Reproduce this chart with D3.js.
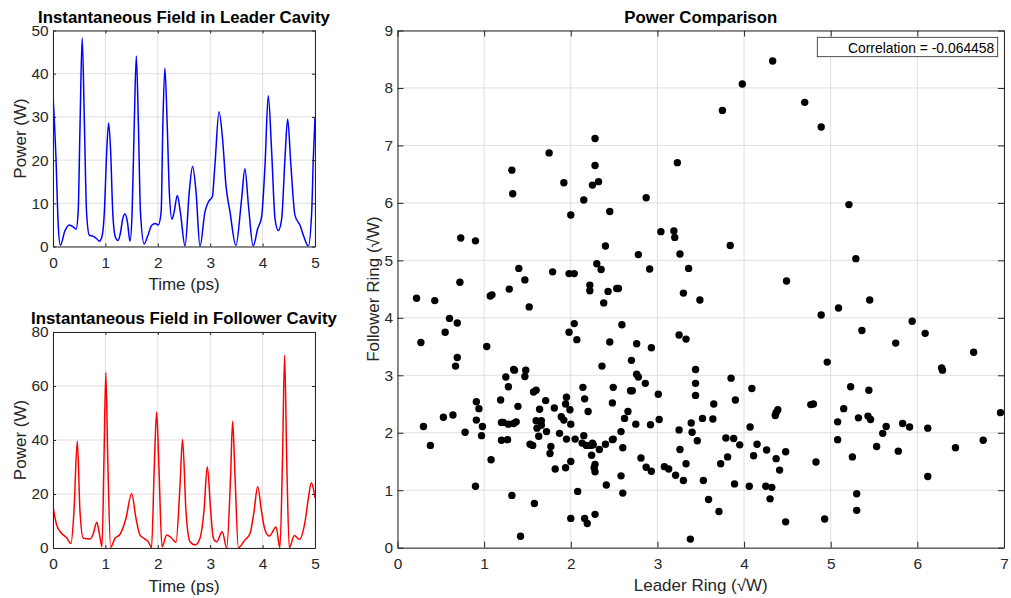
<!DOCTYPE html>
<html>
<head>
<meta charset="utf-8">
<script src="https://cdn.jsdelivr.net/npm/d3@7"></script>
<style>
  body { margin: 0; background: #fff; }
  svg { display: block; }
</style>
</head>
<body>
<svg id="fig" width="1011" height="598"></svg>
<script>
// ---- Leader cavity: instantaneous power vs time ----
const leaderTime = [0, 0.057, 0.10, 0.14, 0.23, 0.31, 0.39, 0.44, 0.48, 0.516,
  0.557, 0.60, 0.64, 0.694, 0.758, 0.834, 0.885, 0.94, 0.98, 1.025,
  1.062, 1.10, 1.14, 1.19, 1.24, 1.29, 1.33, 1.376, 1.42, 1.47,
  1.51, 1.55, 1.59, 1.63, 1.669, 1.74, 1.80, 1.885, 1.95, 2.01,
  2.064, 2.096, 2.135, 2.18, 2.22, 2.27, 2.312, 2.372, 2.43, 2.52,
  2.60, 2.664, 2.73, 2.805, 2.90, 2.964, 3.04, 3.09, 3.168, 3.24,
  3.30, 3.378, 3.49, 3.60, 3.662, 3.73, 3.82, 3.906, 3.98, 4.046,
  4.108, 4.173, 4.237, 4.30, 4.364, 4.427, 4.478, 4.54, 4.618, 4.714,
  4.79, 4.873, 4.937, 4.968, 5.0];
const leaderPower = [35.3, 20.4, 4.9, 0.3, 3.7, 5.0, 4.5, 4.0, 8, 28,
  48.3, 28, 8, 2.6, 2.4, 1.8, 1.2, 2.6, 8, 22,
  28.6, 22, 8, 2.2, 1.4, 3.3, 6.4, 7.5, 5.7, 1.2,
  8, 28, 44.1, 28, 8, 0.6, 2.2, 4.9, 5.3, 5.0,
  8, 28, 41.3, 28, 12.6, 6.3, 8, 11.8, 8, 0.1,
  12.6, 18.5, 12.6, 0, 8, 10.3, 11.5, 18.8, 31.2, 24.3,
  14.2, 8, 0.2, 11.1, 18.0, 9.5, 0.1, 4.1, 6.8, 18.8,
  34.9, 21.9, 6.4, 3.7, 6.4, 20.4, 29.5, 18.8, 7.2, 4.9,
  2.2, 0.1, 8, 20.4, 29.8];

// ---- Follower cavity: instantaneous power vs time ----
const followerTime = [0, 0.07, 0.166, 0.26, 0.344, 0.40, 0.464, 0.515, 0.579, 0.706,
  0.77, 0.834, 0.884, 0.935, 0.973, 1.008, 1.045, 1.10, 1.183, 1.28,
  1.393, 1.50, 1.584, 1.66, 1.756, 1.826, 1.88, 1.934, 1.978, 2.02,
  2.08, 2.17, 2.265, 2.347, 2.424, 2.472, 2.538, 2.615, 2.71, 2.805,
  2.88, 2.945, 3.01, 3.06, 3.124, 3.23, 3.315, 3.39, 3.428, 3.473,
  3.537, 3.664, 3.76, 3.836, 3.906, 3.98, 4.046, 4.13, 4.256, 4.33,
  4.38, 4.42, 4.46, 4.51, 4.605, 4.70, 4.81, 4.873, 4.93, 4.968,
  5.0];
const followerPower = [15.3, 8.5, 5.4, 3.8, 1.7, 13.5, 39.6, 13.5, 3.6, 3.3,
  5.4, 9.5, 5.4, 0.5, 33, 65.0, 33, 0.3, 3.6, 5.1,
  11, 20.2, 11, 4.8, 3.3, 2.1, 0.1, 30.7, 50.4, 30.7,
  0.4, 4.8, 3.6, 2.1, 23.3, 40.2, 13.5, 2.3, 1.1, 3.6,
  13.5, 30.1, 13.5, 3.6, 2.3, 6.0, 0.1, 27, 46.9, 27,
  0.1, 3, 5.4, 13.5, 22.8, 13.5, 6.7, 4.4, 7.8, 0.1,
  33, 71.4, 33, 0.1, 4.6, 3.2, 9.8, 18.4, 24.2, 22.1,
  18.6];

// ---- Power comparison: sqrt power of leader ring vs follower ring ----
const leaderRing = [
  2.28, 1.75, 1.32, 2.28, 3.23, 1.92, 2.25, 2.32, 1.33, 2.15,
  2.87, 2.00, 2.45, 0.73, 0.90, 3.04, 3.19, 3.20, 2.40, 2.78,
  3.26, 1.40, 1.79, 1.98, 2.04, 2.30, 2.35, 2.91, 3.36, 0.72,
  1.47, 4.33, 3.98, 3.75, 4.70, 4.89, 5.21, 3.84, 5.29, 4.49,
  0.22, 0.43, 1.07, 1.09, 1.29, 1.52, 2.22, 2.22, 2.43, 2.38,
  2.53, 2.55, 3.30, 3.49, 0.60, 0.69, 0.55, 0.27, 0.69, 0.67,
  1.03, 2.04, 1.98, 2.07, 2.59, 2.45, 2.76, 2.93, 2.70, 2.36,
  3.25, 3.33, 3.44, 3.44, 3.44, 3.52, 2.76, 2.78, 2.86, 3.01,
  2.69, 2.71, 2.49, 2.48, 2.66, 2.62, 2.75, 2.92, 3.02, 2.58,
  2.60, 2.49, 2.48, 2.40, 2.33, 2.25, 2.26, 2.23, 2.18, 2.13,
  2.15, 2.05, 2.24, 2.28, 2.27, 2.28, 2.58, 2.41, 2.60, 2.08,
  2.00, 2.16, 2.19, 2.28, 1.42, 1.58, 1.32, 0.90, 1.08, 0.38,
  0.30, 0.53, 0.64, 0.78, 0.91, 0.94, 0.91, 0.98, 0.97, 1.19,
  1.25, 1.34, 1.35, 1.28, 1.39, 1.48, 1.47, 1.20, 1.22, 1.28,
  1.37, 1.34, 1.20, 1.27, 1.57, 1.60, 1.71, 1.64, 1.60, 1.66,
  1.66, 1.61, 1.72, 1.63, 1.53, 1.56, 1.77, 1.76, 1.82, 1.94,
  2.00, 1.81, 1.89, 1.92, 1.95, 1.94, 1.99, 2.00, 1.87, 1.95,
  2.14, 2.16, 2.20, 3.25, 3.26, 3.33, 3.30, 3.21, 3.13, 3.08,
  2.81, 2.87, 2.93, 3.39, 3.40, 3.46, 3.53, 3.38,
  4.89, 5.09, 5.45, 5.36, 5.94, 5.75, 6.09, 6.65, 6.28, 6.29,
  4.96, 3.85, 4.09, 3.90, 3.65, 3.64, 4.07, 4.39, 4.37, 4.36,
  4.77, 4.80, 5.23, 5.44, 5.15, 5.08, 5.32, 5.43, 5.46, 5.64,
  5.60, 5.83, 5.91, 6.12, 6.96, 6.76, 6.44, 6.12, 5.78, 5.53,
  5.25, 5.08, 4.83, 5.30, 5.30, 4.93, 4.48, 3.79, 3.88, 3.95,
  4.15, 4.26, 4.48, 4.11, 3.81, 4.37, 3.73, 4.41, 3.89, 4.06,
  4.25, 4.32, 4.30, 3.59, 3.71];
const followerRing = [
  7.12, 6.87, 6.57, 6.65, 6.70, 6.35, 6.31, 6.37, 6.16, 6.05,
  6.09, 5.79, 5.85, 5.39, 5.34, 5.50, 5.51, 5.40, 5.25, 5.10,
  5.11, 4.86, 4.80, 4.77, 4.77, 4.94, 4.84, 4.85, 4.86, 4.62,
  4.66, 8.47, 8.07, 7.61, 7.75, 7.32, 5.97, 5.26, 5.03, 4.64,
  4.34, 4.30, 4.38, 4.40, 4.50, 4.19, 4.57, 4.47, 4.46, 4.26,
  4.51, 4.51, 4.43, 4.31, 3.99, 3.91, 3.75, 3.57, 3.31, 3.16,
  3.50, 3.90, 3.75, 3.62, 3.88, 3.58, 3.55, 3.48, 3.26, 3.16,
  3.70, 3.63, 3.10, 2.86, 2.65, 2.25, 3.02, 2.97, 2.86, 2.67,
  2.73, 2.73, 2.79, 2.52, 2.37, 2.25, 2.15, 2.14, 2.23, 2.02,
  1.74, 1.89, 1.88, 1.80, 1.71, 1.82, 1.79, 1.78, 1.78, 1.82,
  1.95, 1.89, 1.61, 1.45, 1.39, 1.32, 1.25, 1.09, 0.95, 0.98,
  0.51, 0.51, 0.42, 0.58, 0.20, 0.77, 0.91, 1.07, 1.53, 1.78,
  2.11, 2.27, 2.31, 2.01, 2.54, 2.42, 2.22, 2.11, 1.95, 2.57,
  2.97, 3.10, 3.09, 2.80, 2.46, 3.09, 2.98, 2.18, 2.18, 2.15,
  2.19, 2.16, 1.87, 1.88, 2.71, 2.74, 2.56, 2.41, 2.21, 2.21,
  2.13, 2.08, 2.02, 1.94, 1.80, 1.78, 1.76, 1.64, 1.37, 1.39,
  1.50, 2.43, 2.28, 2.22, 2.62, 2.50, 2.40, 2.15, 1.99, 1.89,
  2.79, 2.59, 2.37, 2.05, 1.71, 1.46, 1.17, 1.26, 1.37, 1.41,
  1.56, 1.40, 1.33, 2.17, 2.01, 1.86, 1.17, 0.15,
  4.05, 4.17, 4.31, 3.78, 3.94, 3.56, 3.73, 3.40, 3.13, 3.09,
  3.23, 2.95, 2.77, 2.57, 2.50, 2.24, 2.10, 2.40, 2.35, 2.30,
  2.49, 2.50, 2.80, 2.74, 2.42, 2.19, 2.26, 2.29, 2.23, 2.11,
  1.99, 2.16, 2.10, 2.08, 2.35, 1.87, 1.74, 1.24, 1.68, 1.76,
  1.58, 1.88, 1.49, 0.94, 0.65, 0.50, 0.45, 1.91, 1.90, 1.79,
  1.80, 1.70, 1.67, 1.60, 1.58, 1.55, 1.46, 1.35, 1.11, 1.07,
  1.07, 1.05, 0.85, 0.84, 0.63];

const timeTicks = [0, 1, 2, 3, 4, 5];
const leaderPowerTicks = [0, 10, 20, 30, 40, 50];
const followerPowerTicks = [0, 20, 40, 60, 80];
const leaderRingTicks = [0, 1, 2, 3, 4, 5, 6, 7];
const followerRingTicks = [0, 1, 2, 3, 4, 5, 6, 7, 8, 9];
const correlationText = "Correlation = -0.064458";

// ---- drawing ----
const FONT = "'Liberation Sans', Arial, Helvetica, sans-serif";
const INK = "#262626";
const svg = d3.select("#fig");

function makeAxes(o) {
  const x = d3.scaleLinear().domain(o.xDomain).range([0, o.width]);
  const y = d3.scaleLinear().domain(o.yDomain).range([o.height, 0]);
  const g = svg.append("g").attr("transform", `translate(${o.left},${o.top})`);

  const grid = g.append("g").attr("stroke", "#dfdfdf").attr("stroke-width", 1);
  grid.selectAll("line.gx").data(o.xTicks).join("line").attr("class", "gx")
    .attr("x1", d => x(d)).attr("x2", d => x(d)).attr("y1", 0).attr("y2", o.height);
  grid.selectAll("line.gy").data(o.yTicks).join("line").attr("class", "gy")
    .attr("y1", d => y(d)).attr("y2", d => y(d)).attr("x1", 0).attr("x2", o.width);

  const clipId = "clip" + Math.round(o.left) + "_" + Math.round(o.top);
  g.append("clipPath").attr("id", clipId).append("rect")
    .attr("width", o.width).attr("height", o.height);
  const plot = g.append("g").attr("clip-path", `url(#${clipId})`);

  return { ...o, x, y, g, plot };
}

function drawFrame(a) {
  const fmt = d3.format("d");
  const blank = () => "";
  const tl = a.tickLen;
  const axes = [
    a.g.append("g").attr("transform", `translate(0,${a.height})`)
      .call(d3.axisBottom(a.x).tickValues(a.xTicks).tickFormat(fmt)
        .tickSizeInner(-tl).tickSizeOuter(0).tickPadding(10.5)),
    a.g.append("g")
      .call(d3.axisTop(a.x).tickValues(a.xTicks).tickFormat(blank)
        .tickSizeInner(-tl).tickSizeOuter(0)),
    a.g.append("g")
      .call(d3.axisLeft(a.y).tickValues(a.yTicks).tickFormat(fmt)
        .tickSizeInner(-tl).tickSizeOuter(0).tickPadding(4.5)),
    a.g.append("g").attr("transform", `translate(${a.width},0)`)
      .call(d3.axisRight(a.y).tickValues(a.yTicks).tickFormat(blank)
        .tickSizeInner(-tl).tickSizeOuter(0))
  ];
  axes.forEach(s => {
    s.attr("font-family", FONT).attr("font-size", 15.4);
    s.select(".domain").attr("stroke", INK).attr("stroke-width", 1);
    s.selectAll(".tick line").attr("stroke", INK).attr("stroke-width", 1);
    s.selectAll(".tick text").attr("fill", INK);
  });

  // title
  a.g.append("text")
    .attr("x", a.width / 2).attr("y", -8)
    .attr("text-anchor", "middle")
    .attr("font-family", FONT).attr("font-size", 16.8).attr("font-weight", "bold")
    .attr("fill", "#000")
    .text(a.title);
  // x label
  a.g.append("text")
    .attr("x", a.width / 2).attr("y", a.height + 43.5)
    .attr("text-anchor", "middle")
    .attr("font-family", FONT).attr("font-size", 17).attr("fill", INK)
    .text(a.xLabel);
  // y label
  a.g.append("text")
    .attr("transform", `translate(${a.yLabelX},${a.height / 2}) rotate(-90)`)
    .attr("text-anchor", "middle")
    .attr("font-family", FONT).attr("font-size", 17).attr("fill", INK)
    .text(a.yLabel);
}

// Leader cavity panel
const leaderAx = makeAxes({
  left: 53, top: 30.5, width: 262, height: 216,
  xDomain: [0, 5], yDomain: [0, 50],
  xTicks: timeTicks, yTicks: leaderPowerTicks, tickLen: 3,
  title: "Instantaneous Field in Leader Cavity",
  xLabel: "Time (ps)", yLabel: "Power (W)", yLabelX: -27.5
});
leaderAx.plot.append("path")
  .datum(d3.range(leaderTime.length))
  .attr("fill", "none").attr("stroke", "#0000ff").attr("stroke-width", 1.5)
  .attr("stroke-linejoin", "round")
  .attr("d", d3.line()
    .x(i => leaderAx.x(leaderTime[i]))
    .y(i => leaderAx.y(leaderPower[i]))
    .curve(d3.curveMonotoneX));
drawFrame(leaderAx);

// Follower cavity panel
const followerAx = makeAxes({
  left: 53, top: 332, width: 262, height: 216,
  xDomain: [0, 5], yDomain: [0, 80],
  xTicks: timeTicks, yTicks: followerPowerTicks, tickLen: 3,
  title: "Instantaneous Field in Follower Cavity",
  xLabel: "Time (ps)", yLabel: "Power (W)", yLabelX: -27.5
});
followerAx.plot.append("path")
  .datum(d3.range(followerTime.length))
  .attr("fill", "none").attr("stroke", "#ff0000").attr("stroke-width", 1.5)
  .attr("stroke-linejoin", "round")
  .attr("d", d3.line()
    .x(i => followerAx.x(followerTime[i]))
    .y(i => followerAx.y(followerPower[i]))
    .curve(d3.curveMonotoneX));
drawFrame(followerAx);

// Scatter panel
const scatterAx = makeAxes({
  left: 397.5, top: 30.5, width: 606.5, height: 517.2,
  xDomain: [0, 7], yDomain: [0, 9],
  xTicks: leaderRingTicks, yTicks: followerRingTicks, tickLen: 6,
  title: "Power Comparison",
  xLabel: "Leader Ring (\u221AW)", yLabel: "Follower Ring (\u221AW)", yLabelX: -18.5
});
scatterAx.plot.selectAll("circle")
  .data(d3.range(leaderRing.length))
  .join("circle")
  .attr("cx", i => scatterAx.x(leaderRing[i]))
  .attr("cy", i => scatterAx.y(followerRing[i]))
  .attr("r", 3.7)
  .attr("fill", "#000");
drawFrame(scatterAx);

// correlation legend box
const legend = scatterAx.g.append("g");
legend.append("rect")
  .attr("x", 419.8).attr("y", 6.8).attr("width", 180.4).attr("height", 19.4)
  .attr("fill", "#fff").attr("stroke", INK).attr("stroke-width", 0.8);
legend.append("text")
  .attr("x", 596.8).attr("y", 22.6)
  .attr("text-anchor", "end")
  .attr("font-family", FONT).attr("font-size", 13.9).attr("fill", "#000")
  .text(correlationText);
</script>
</body>
</html>
